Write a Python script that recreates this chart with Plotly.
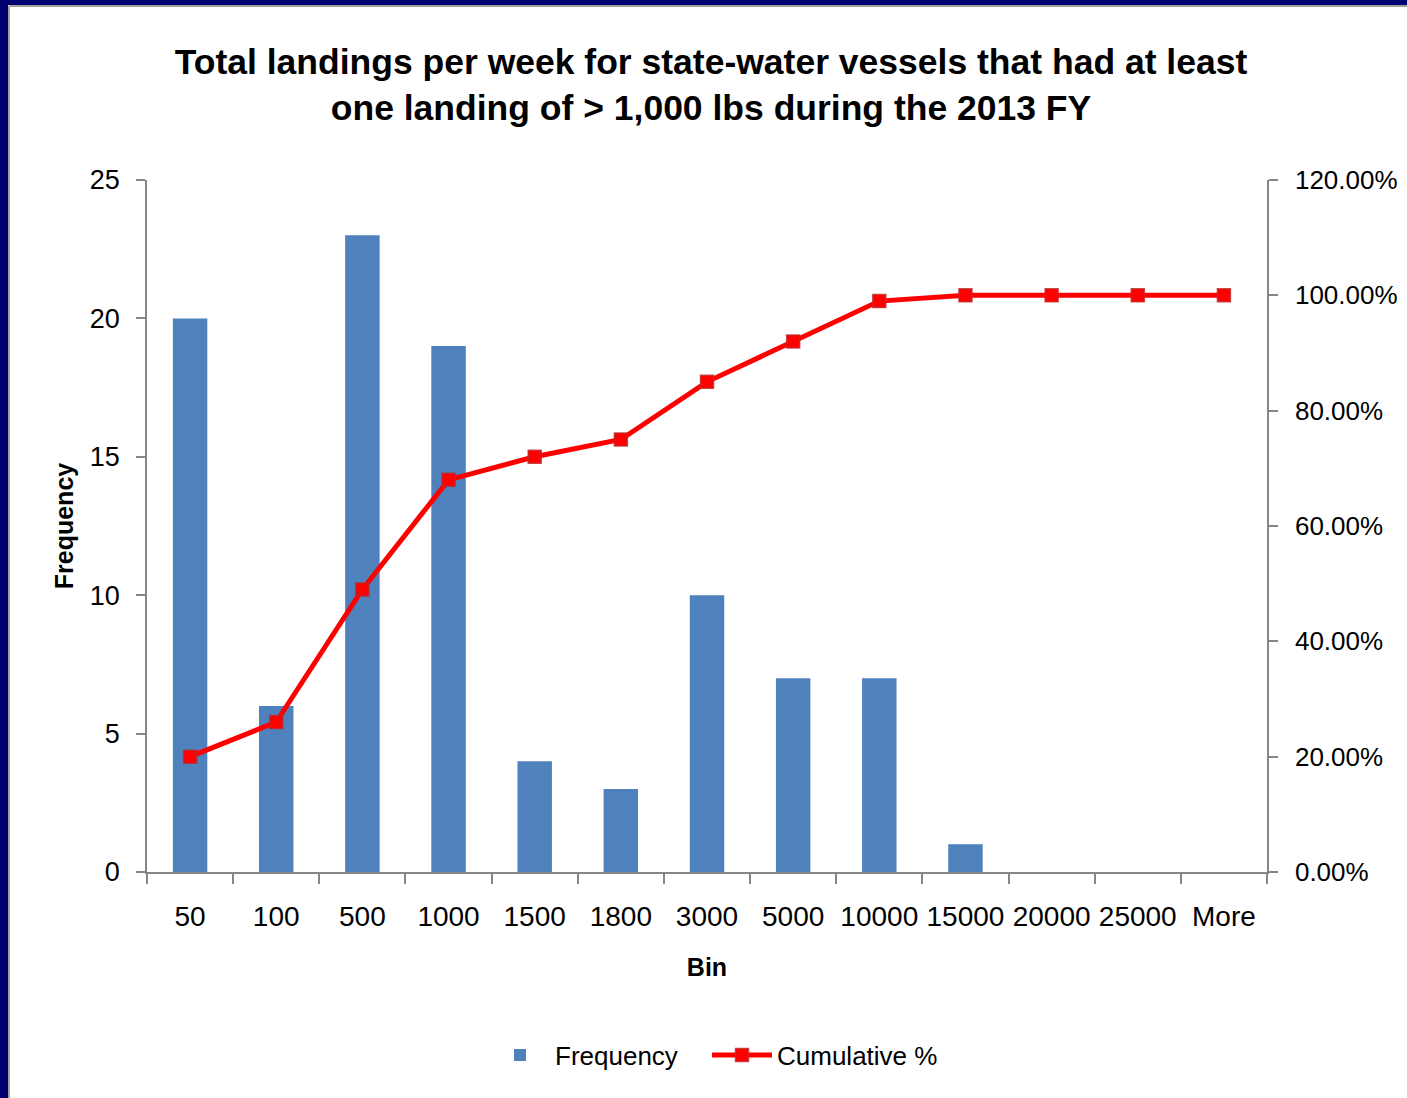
import plotly.graph_objects as go

bins = ["50", "100", "500", "1000", "1500", "1800", "3000", "5000", "10000", "15000", "20000", "25000", "More"]
frequency = [20, 6, 23, 19, 4, 3, 10, 7, 7, 1, 0, 0, 0]
cumulative_pct = [0.20, 0.26, 0.49, 0.68, 0.72, 0.75, 0.85, 0.92, 0.99, 1.00, 1.00, 1.00, 1.00]

W, H = 1407, 1098
L, R, T, B = 147, 140, 180, 226
pw, ph = W - L - R, H - T - B

def px_x(p):
    return (p - L) / pw

def px_y(p):
    return (H - B - p) / ph

FONT = "Liberation Sans"
AX = "#868686"

fig = go.Figure()
fig.add_trace(go.Bar(
    x=bins, y=frequency, name="Frequency",
    marker=dict(color="#4F81BD", line=dict(width=0)),
    width=0.4, yaxis="y", legend="legend",
))
fig.add_trace(go.Scatter(
    x=bins, y=cumulative_pct, name="Cumulative %", mode="lines+markers",
    line=dict(color="#FF0000", width=5),
    marker=dict(symbol="square", size=13, color="#FF0000",
                line=dict(color="rgba(190,40,40,0.8)", width=1.5)),
    yaxis="y2", legend="legend2",
))

legend_common = dict(
    orientation="h", yanchor="middle", y=px_y(1055), xanchor="left",
    font=dict(size=26, color="#000000"), itemwidth=60, bgcolor="rgba(0,0,0,0)",
)

fig.update_layout(
    width=W, height=H,
    margin=dict(l=L, r=R, t=T, b=B, pad=0, autoexpand=False),
    paper_bgcolor="white", plot_bgcolor="white",
    font=dict(family=FONT, color="#000000"),
    title=dict(
        text="<b>Total landings per week for state-water vessels that had at least<br>one landing of &gt; 1,000 lbs during the 2013 FY</b>",
        x=px_x(711), xanchor="center", xref="paper",
        y=1 - 74 / H, yanchor="middle", yref="container",
        font=dict(family=FONT, size=35.5, color="#000000"),
    ),
    xaxis=dict(
        type="category", range=[-0.5, len(bins) - 0.5],
        showline=True, linecolor=AX, linewidth=1.5,
        ticks="outside", tickson="boundaries", ticklen=10, tickcolor=AX, tickwidth=1.5,
        tickfont=dict(size=28, color="#000000"), ticklabelstandoff=19, tickangle=0,
        showgrid=False, zeroline=False, automargin=False,
        title=dict(text="<b>Bin</b>", font=dict(size=25, color="#000000"), standoff=27),
    ),
    yaxis=dict(
        range=[0, 25], dtick=5, showline=True, linecolor=AX, linewidth=1.5,
        ticks="outside", ticklen=9, tickcolor=AX, tickwidth=1.5,
        tickfont=dict(size=27, color="#000000"), ticklabelstandoff=11,
        showgrid=False, zeroline=False, automargin=False,
        title=dict(text="<b>Frequency</b>", font=dict(size=25, color="#000000"), standoff=9),
    ),
    yaxis2=dict(
        range=[0, 1.2], dtick=0.2, tickformat=".2%", overlaying="y", side="right",
        showline=True, linecolor=AX, linewidth=1.5,
        ticks="outside", ticklen=9, tickcolor=AX, tickwidth=1.5,
        tickfont=dict(size=26, color="#000000"), ticklabelstandoff=12,
        showgrid=False, zeroline=False, automargin=False,
    ),
    legend=dict(x=px_x(485), **legend_common),
    legend2=dict(x=px_x(707), **legend_common),
    showlegend=True,
    bargap=0.6,
)

# navy frame on the left and top edges
NAVY = "#000070"
fig.add_shape(type="rect", xref="paper", yref="paper",
              x0=px_x(-5), x1=px_x(8), y0=px_y(H + 5), y1=px_y(-5),
              fillcolor=NAVY, line=dict(width=0), layer="above")
fig.add_shape(type="rect", xref="paper", yref="paper",
              x0=px_x(-5), x1=px_x(W + 5), y0=px_y(5), y1=px_y(-5),
              fillcolor=NAVY, line=dict(width=0), layer="above")
fig.add_shape(type="line", xref="paper", yref="paper",
              x0=px_x(9), x1=px_x(9), y0=px_y(H + 5), y1=px_y(6),
              line=dict(color="#A0A0A0", width=2), layer="above")
fig.add_shape(type="line", xref="paper", yref="paper",
              x0=px_x(9), x1=px_x(W + 5), y0=px_y(6), y1=px_y(6),
              line=dict(color="#A0A0A0", width=2), layer="above")

fig.write_html("out.html")
